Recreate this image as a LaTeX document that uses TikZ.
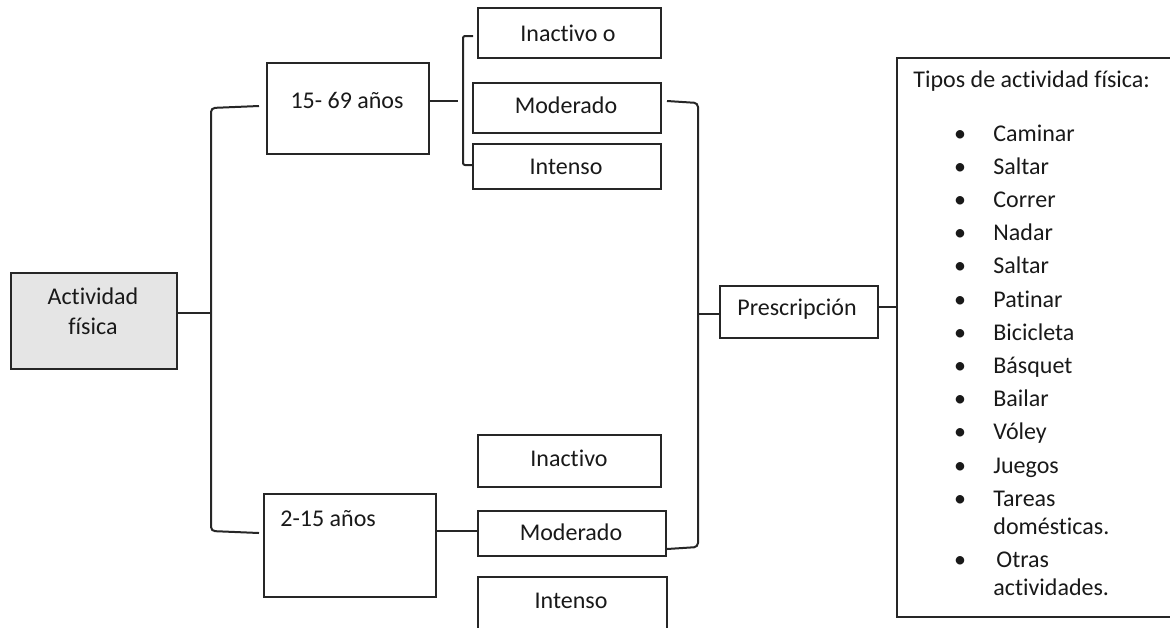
\documentclass[tikz,border=0pt]{standalone}
\usepackage{fontspec}
\setmainfont{Carlito}[Ligatures=NoCommon]
\begin{document}
\begin{tikzpicture}[x=0.5pt,y=-0.5pt,
  bx/.style={draw=black!85, line width=1pt, rectangle, inner sep=0pt},
  ln/.style={draw=black!85, line width=1pt, rounded corners=2pt},
  tx/.style={inner sep=0pt, anchor=base, text=black!90, font=\fontsize{12}{14}\selectfont},
  txl/.style={tx, anchor=base west}]
\useasboundingbox (0,0) rectangle (1170,627);
% boxes
\node[bx, fill=black!10, minimum width=83pt, minimum height=48pt] (act) at (94,321) {};
\node[bx, minimum width=81pt, minimum height=45.5pt] (n15) at (348,108.5) {};
\node[bx, minimum width=91.5pt, minimum height=25pt] (ina1) at (569.5,33) {};
\node[bx, minimum width=94pt, minimum height=25pt] (mod1) at (567,108) {};
\node[bx, minimum width=94pt, minimum height=22.5pt] (int1) at (567,166.5) {};
\node[bx, minimum width=79pt, minimum height=26pt] (presc) at (799,312) {};
\node[bx, minimum width=139.5pt, minimum height=279.5pt] (tipos) at (1036.5,337.5) {};
\node[bx, minimum width=86pt, minimum height=51.5pt] (n2) at (350,545.5) {};
\node[bx, minimum width=91.5pt, minimum height=26pt] (ina2) at (569.5,461) {};
\node[bx, minimum width=94pt, minimum height=22.5pt] (mod2) at (572,533.5) {};
\node[bx, minimum width=94.5pt, minimum height=31.5pt] (int2) at (572.5,608.5) {};
% texts
\node[tx] (tact1) at (93,304) {Actividad};
\node[tx] (tact2) at (93,334) {física};
\node[tx] (t15) at (347,108) {15- 69 años};
\node[tx] (tina1) at (568,41) {Inactivo o};
\node[tx] (tmod1) at (566,113) {Moderado};
\node[tx] (tint1) at (566,174) {Intenso};
\node[tx] (tpresc) at (797,315) {Prescripción};
\node[txl] (tn2) at (280,526) {2-15 años};
\node[tx] (tina2) at (569,466) {Inactivo};
\node[tx] (tmod2) at (571,540) {Moderado};
\node[tx] (tint2) at (571,608) {Intenso};
\node[txl] (ttit) at (913,87) {Tipos de actividad física:};
\foreach \t [count=\i from 0] in {Caminar,Saltar,Correr,Nadar,Saltar,Patinar,Bicicleta,Básquet,Bailar,Vóley,Juegos,Tareas}{
  \node[tx] (bu\i) at (960,141+33.2*\i) {•};
  \node[txl] (it\i) at (993,141+33.2*\i) {\t};
}
\node[txl] (it11b) at (993,534) {domésticas.};
\node[tx] (bu12) at (960,567) {•};
\node[txl] (it12) at (996,567) {Otras};
\node[txl] (it12b) at (993,595) {actividades.};
% connectors
\coordinate (j1) at (211,313);
\draw[ln] (j1 -| act.east) -- (j1);
\coordinate (b1t) at (259,106);
\coordinate (b1b) at (259,533);
\draw[ln] (b1t) -- (211,108) -- (211,531) -- (b1b);
\coordinate (j2) at (458,101);
\draw[ln] (j2 -| n15.east) -- (j2);
\coordinate (b2t) at (473,36);
\coordinate (b2b) at (473,165);
\draw[ln, rounded corners=1pt] (b2t) -- (463,36) -- (463,165) -- (b2b);
\coordinate (c1) at (667,101);
\coordinate (c2) at (667,549);
\draw[ln] (c1) -- (698,103) -- (698,547) -- (c2);
\coordinate (j3) at (698,314);
\draw[ln] (j3) -- (j3 -| presc.west);
\coordinate (j4) at (888,307);
\draw[ln] (j4 -| presc.east) -- (j4 -| tipos.west);
\coordinate (j5) at (450,531);
\draw[ln] (j5 -| n2.east) -- (j5 -| mod2.west);
\end{tikzpicture}
\end{document}
